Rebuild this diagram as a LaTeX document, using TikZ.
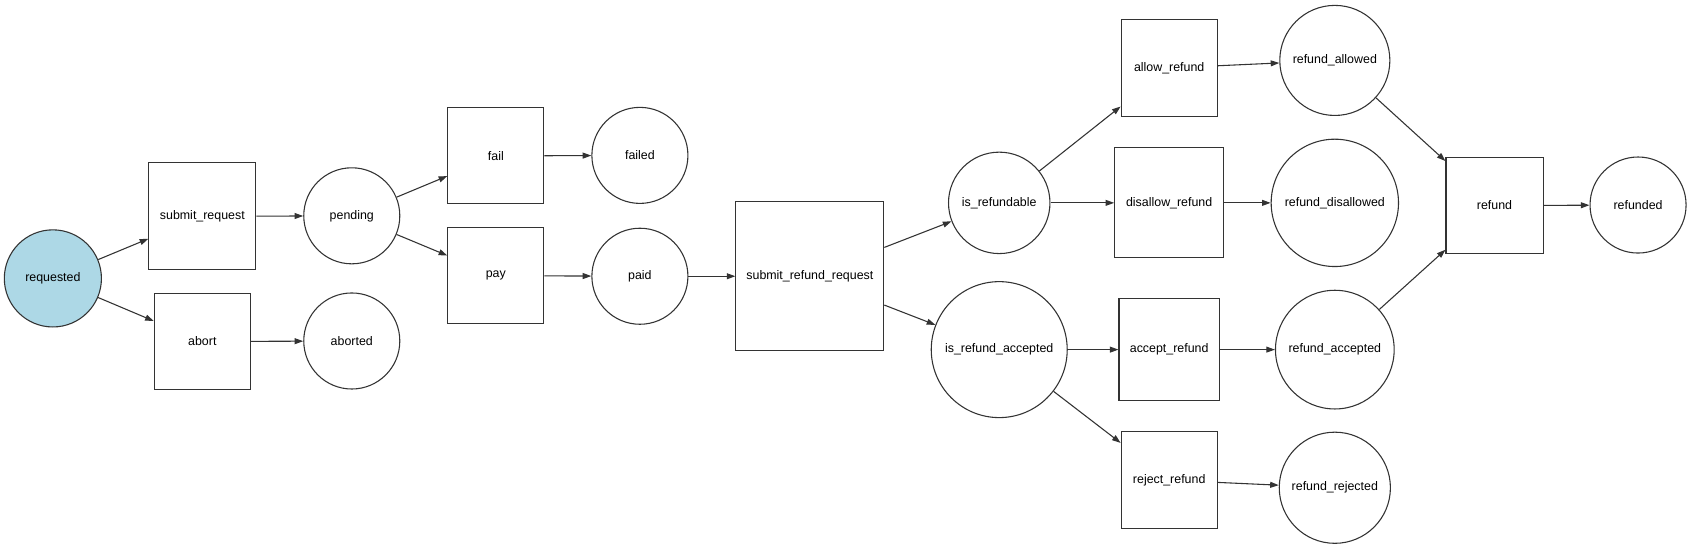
\documentclass[tikz,border=0pt]{standalone}
\usepackage{fontspec}
\setmainfont{Liberation Sans}
\usetikzlibrary{arrows.meta}
\definecolor{startblue}{RGB}{173,216,230}
\definecolor{linegray}{RGB}{51,51,51}

\begin{document}
\begin{tikzpicture}[x=1pt,y=-1pt,
    state/.style={circle,draw=linegray,line width=1pt,inner sep=0pt,font=\fontsize{11.5}{13}\selectfont},
    action/.style={rectangle,draw=linegray,line width=1pt,inner sep=0pt,font=\fontsize{11.5}{13}\selectfont},
    edge/.style={draw=linegray,line width=1pt,-{Triangle[length=8pt,width=5.5pt]}}]
    \useasboundingbox (0,0) rectangle (1568,510);
    \node[state,fill=startblue,minimum size=90] (requested) at (49,258) {requested};
    \node[action,minimum width=99,minimum height=99] (submitrequest) at (187.5,200.5) {submit\_request};
    \node[action,minimum width=89,minimum height=89] (abort) at (187.5,316.5) {abort};
    \node[state,minimum size=89] (pending) at (326,200) {pending};
    \node[state,minimum size=89] (aborted) at (326,316) {aborted};
    \node[action,minimum width=89,minimum height=89] (fail) at (459.5,144.5) {fail};
    \node[action,minimum width=89,minimum height=89] (pay) at (459.5,255.5) {pay};
    \node[state,minimum size=89] (failed) at (593,144) {failed};
    \node[state,minimum size=89] (paid) at (593,256) {paid};
    \node[action,minimum width=137,minimum height=138] (submitrefund) at (750.5,256) {submit\_refund\_request};
    \node[state,minimum size=94] (isrefundable) at (926,188) {is\_refundable};
    \node[state,minimum size=126] (isaccepted) at (926,324) {is\_refund\_accepted};
    \node[action,minimum width=89,minimum height=90] (allowrefund) at (1083.5,63) {allow\_refund};
    \node[action,minimum width=101,minimum height=102] (disallowrefund) at (1083.5,188) {disallow\_refund};
    \node[action,minimum width=93,minimum height=94] (acceptrefund) at (1083.5,324) {accept\_refund};
    \node[action,minimum width=89,minimum height=90] (rejectrefund) at (1083.5,445) {reject\_refund};
    \node[state,minimum size=102] (allowed) at (1237,56) {refund\_allowed};
    \node[state,minimum size=118] (disallowed) at (1237,188) {refund\_disallowed};
    \node[state,minimum size=110] (accepted) at (1237,324) {refund\_accepted};
    \node[state,minimum size=103] (rejected) at (1237,452) {refund\_rejected};
    \node[action,minimum width=90,minimum height=89] (refund) at (1385,190.5) {refund};
    \node[state,minimum size=89] (refunded) at (1518,190) {refunded};
    \draw[edge] (requested) -- (submitrequest);
    \draw[edge] (requested) -- (abort);
    \draw[edge] (submitrequest) -- (pending);
    \draw[edge] (abort) -- (aborted);
    \draw[edge] (pending) -- (fail);
    \draw[edge] (pending) -- (pay);
    \draw[edge] (fail) -- (failed);
    \draw[edge] (pay) -- (paid);
    \draw[edge] (paid) -- (submitrefund);
    \draw[edge] (submitrefund) -- (isrefundable);
    \draw[edge] (submitrefund) -- (isaccepted);
    \draw[edge] (isrefundable) -- (allowrefund);
    \draw[edge] (isrefundable) -- (disallowrefund);
    \draw[edge] (isaccepted) -- (acceptrefund);
    \draw[edge] (isaccepted) -- (rejectrefund);
    \draw[edge] (allowrefund) -- (allowed);
    \draw[edge] (disallowrefund) -- (disallowed);
    \draw[edge] (acceptrefund) -- (accepted);
    \draw[edge] (rejectrefund) -- (rejected);
    \draw[edge] (allowed) -- (refund);
    \draw[edge] (accepted) -- (refund);
    \draw[edge] (refund) -- (refunded);
\end{tikzpicture}
\end{document}
